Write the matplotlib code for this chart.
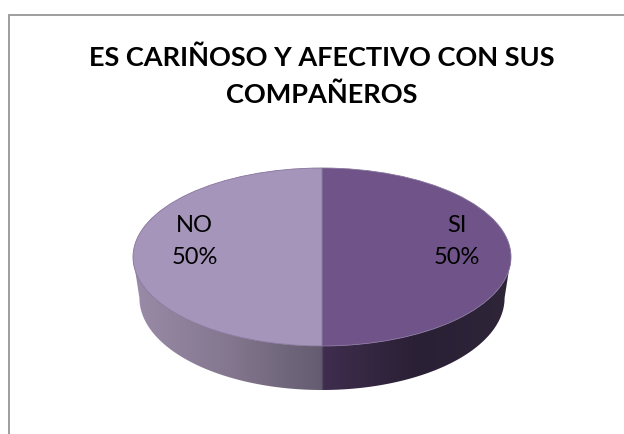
import numpy as np
import matplotlib
matplotlib.use("Agg")
import matplotlib.pyplot as plt
from matplotlib.colors import LinearSegmentedColormap
from matplotlib.patches import Polygon, Rectangle

title = "ES CARIÑOSO Y AFECTIVO CON SUS\nCOMPAÑEROS"
labels = ["SI", "NO"]
values = [50, 50]
percents = ["50%", "50%"]
top_colors = ["#6f5389", "#a595bb"]

W, H = 624, 434
cx, cy = 322, 257   # pie centre in pixels
rx, ry = 189, 89

plt.rcParams['font.family'] = ['Lato', 'DejaVu Sans']

fig = plt.figure(figsize=(W / 100, H / 100), dpi=100)
fig.patch.set_facecolor('white')

# Axes covers the whole figure, one unit = pie radius
ax = fig.add_axes([0, 0, 1, 1])
wedges, _ = ax.pie(values, colors=top_colors, startangle=90, counterclock=False,
                   radius=1, wedgeprops=dict(edgecolor='#86749c', linewidth=0.6, zorder=5))

# Side wall: lower rim is a little narrower than the top, gradient runs left to right
wall_cmap = LinearSegmentedColormap.from_list('wall', [
    (0.0, '#9a8ba8'), (0.25, '#84778f'), (0.4975, '#645c70'),
    (0.5025, '#3f2d4e'), (0.75, '#2a2035'), (1.0, '#2f2539')])
t = np.linspace(np.pi, 2 * np.pi, 200)
top_rim = np.column_stack([np.cos(t), np.sin(t)])
low_rim = np.column_stack([0.966 * np.cos(t), 92 / ry * np.sin(t) - 41 / ry])
wall = Polygon(np.vstack([top_rim, low_rim[::-1]]), closed=True, facecolor='none',
               edgecolor='none', transform=ax.transData)
ax.add_patch(wall)
img = ax.imshow(np.linspace(0, 1, 512)[None, :], cmap=wall_cmap, aspect='auto',
                extent=(-1, 1, -2, 1), zorder=2, interpolation='bilinear')
img.set_clip_path(wall)

ax.set_aspect('auto')
ax.set_xlim(-cx / rx, (W - cx) / rx)
ax.set_ylim((cy - H) / ry, cy / ry)
ax.axis('off')

# Labels: first slice is on the right
label_pos = [(456.5, 226, 258), (194.5, 226, 258)]
for lab, pct, (px, y1, y2) in zip(labels, percents, label_pos):
    fig.text(px / W, 1 - y1 / H, lab, ha='center', va='center', fontsize=17, color='black')
    fig.text(px / W, 1 - y2 / H, pct, ha='center', va='center', fontsize=17, color='black')

fig.text(322 / W, 1 - 76 / H, title, ha='center', va='center', fontsize=19.5,
         fontweight='bold', color='black', linespacing=1.58)

# Chart frame, cut by the image on the right and bottom
fig.add_artist(Rectangle((8.5 / W, -0.02), 0.99, 1 - 14.5 / H + 0.02, transform=fig.transFigure,
                         facecolor='none', edgecolor='#969696', linewidth=1.3, zorder=0))

fig.savefig('out.png', dpi=100)
